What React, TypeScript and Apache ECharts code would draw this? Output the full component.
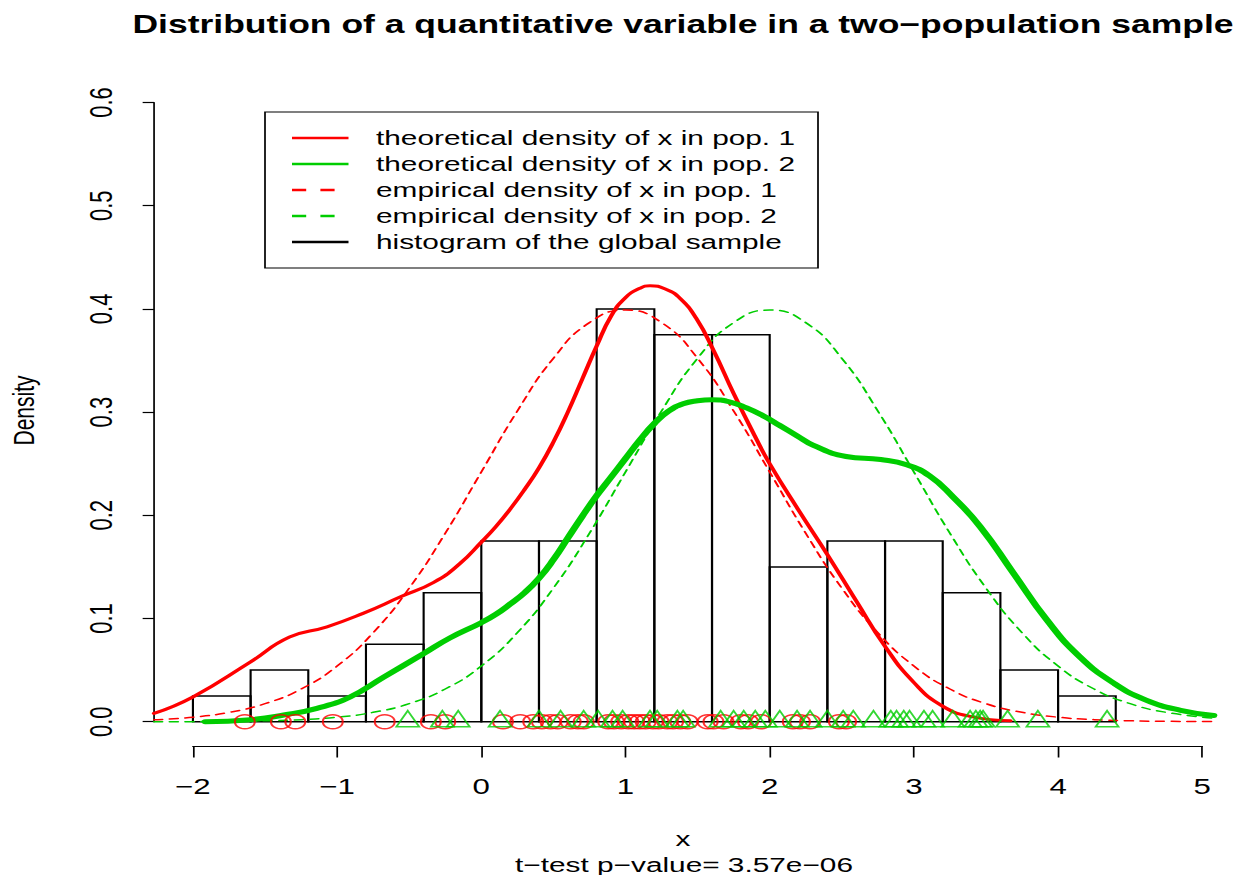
import React, { useEffect, useRef } from "react";
import * as echarts from "echarts";

// ---------------- data ----------------
const binEdges = [-2, -1.6, -1.2, -0.8, -0.4, 0, 0.4, 0.8, 1.2, 1.6, 2.0, 2.4, 2.8, 3.2, 3.6, 4.0, 4.4];
const binDensity = [0.025, 0.05, 0.025, 0.075, 0.125, 0.175, 0.175, 0.4, 0.375, 0.375, 0.15, 0.175, 0.175, 0.125, 0.05, 0.025];

// thick solid red curve (pop. 1)
const redSolidX = [-2.27, -2.0, -1.6, -1.33, -1.07, -0.82, -0.56, -0.33, -0.15, 0.0, 0.1, 0.2, 0.3, 0.4, 0.5, 0.6, 0.7, 0.8, 0.9, 1.0, 1.1, 1.17, 1.28, 1.38, 1.49, 1.61, 1.75, 1.9, 2.0, 2.2, 2.4, 2.6, 2.8, 3.0, 3.2, 3.4, 3.67];
const redSolidY = [0.008, 0.024, 0.058, 0.082, 0.092, 0.105, 0.121, 0.135, 0.153, 0.174, 0.189, 0.206, 0.225, 0.246, 0.271, 0.300, 0.332, 0.364, 0.393, 0.411, 0.420, 0.4225, 0.419, 0.410, 0.391, 0.360, 0.318, 0.276, 0.250, 0.205, 0.162, 0.117, 0.073, 0.038, 0.015, 0.005, 0.001];

// thick solid green curve (pop. 2)
const greenSolidX = [-1.915, -1.6, -1.37, -1.14, -0.91, -0.68, -0.4, -0.22, 0.0, 0.1, 0.2, 0.3, 0.4, 0.5, 0.6, 0.7, 0.8, 0.9, 1.0, 1.1, 1.2, 1.3, 1.4, 1.5, 1.6, 1.72, 1.84, 1.96, 2.07, 2.19, 2.3, 2.53, 2.77, 2.95, 3.11, 3.27, 3.46, 3.69, 3.92, 4.15, 4.39, 4.61, 4.85, 5.08];
const greenSolidY = [0.0, 0.002, 0.0065, 0.013, 0.024, 0.043, 0.066, 0.081, 0.096, 0.104, 0.114, 0.125, 0.139, 0.157, 0.178, 0.199, 0.219, 0.237, 0.255, 0.273, 0.289, 0.301, 0.308, 0.311, 0.312, 0.310, 0.304, 0.296, 0.287, 0.277, 0.268, 0.257, 0.254, 0.249, 0.238, 0.218, 0.189, 0.144, 0.099, 0.063, 0.037, 0.021, 0.011, 0.006];

// thin dashed bell curves
const dashedX = [-2.27, -2, -1.75, -1.5, -1.25, -1, -0.75, -0.5, -0.25, 0, 0.25, 0.5, 0.75, 1, 1.25, 1.5, 1.75, 2, 2.25, 2.5, 2.75, 3, 3.25, 3.5, 3.75, 4, 4.25, 4.5, 4.75, 5.08];
const redDashedY = [0.0019, 0.0044, 0.0091, 0.0175, 0.0317, 0.054, 0.0863, 0.1295, 0.1826, 0.242, 0.3011, 0.3521, 0.3867, 0.3989, 0.3867, 0.3521, 0.3011, 0.242, 0.1826, 0.1295, 0.0863, 0.054, 0.0317, 0.0175, 0.0091, 0.0044, 0.002, 0.0009, 0.0004, 0.0001];
const greenDashedY = [0.0, 0.0001, 0.0004, 0.0009, 0.002, 0.0044, 0.0091, 0.0175, 0.0317, 0.054, 0.0863, 0.1295, 0.1826, 0.242, 0.3011, 0.3521, 0.3867, 0.3989, 0.3867, 0.3521, 0.3011, 0.242, 0.1826, 0.1295, 0.0863, 0.054, 0.0317, 0.0175, 0.0091, 0.0035];

// rug of observations
const pop1Rug = [-1.64, -1.39, -1.29, -1.03, -0.67, -0.35, -0.25, 0.15, 0.27, 0.36, 0.42, 0.48, 0.53, 0.62, 0.67, 0.71, 0.88, 0.92, 0.97, 1.02, 1.06, 1.1, 1.14, 1.19, 1.23, 1.29, 1.33, 1.38, 1.43, 1.57, 1.61, 1.68, 1.8, 1.85, 1.94, 2.16, 2.21, 2.28, 2.48, 2.53];
const pop2Rug = [-0.51, -0.27, -0.16, 0.13, 0.4, 0.55, 0.71, 0.81, 0.91, 0.98, 1.17, 1.22, 1.36, 1.4, 1.66, 1.75, 1.82, 1.9, 1.97, 2.07, 2.19, 2.28, 2.4, 2.51, 2.58, 2.72, 2.84, 2.88, 2.93, 2.97, 3.07, 3.13, 3.27, 3.39, 3.43, 3.46, 3.48, 3.65, 3.86, 4.34];

const legendLabels = [
  "theoretical density of x in pop. 1",
  "theoretical density of x in pop. 2",
  "empirical density of x in pop. 1",
  "empirical density of x in pop. 2",
  "histogram of the global sample",
];

const titleText = "Distribution of a quantitative variable in a two\u2212population sample";
const xLabel = "x";
const subText = "t\u2212test p\u2212value= 3.57e\u221206";
const yLabel = "Density";

// ---------------- layout ----------------
const W = 874;
const H = 875;
const S = 1241 / W; // horizontal stretch of the whole picture
const ix = (px: number) => px / S;

const RED = "#FF0000";
const GREEN = "#00CD00";
const FONT = '"Liberation Sans", Arial, Helvetica, sans-serif';

const pairs = (xs: number[], ys: number[]) => xs.map((x, i) => [x, ys[i]]);

function buildOption(): any {
  const bins = binDensity.map((d, i) => [binEdges[i], binEdges[i + 1], d]);

  const legendEls: any[] = [
    {
      type: "rect",
      shape: { x: ix(265), y: 112, width: ix(818) - ix(265), height: 156 },
      style: { fill: "#fff", stroke: "#000", lineWidth: 1.2 },
      silent: true,
    },
  ];
  const legendColors = [RED, GREEN, RED, GREEN, "#000"];
  const legendDashed = [false, false, true, true, false];
  legendLabels.forEach((lab, i) => {
    const y = 138 + 26 * i;
    legendEls.push({
      type: "line",
      shape: { x1: ix(292), y1: y, x2: ix(348.5), y2: y },
      style: { stroke: legendColors[i], lineWidth: 2.5, lineDash: legendDashed[i] ? [10, 10] : null },
      silent: true,
    });
    legendEls.push({
      type: "text",
      x: ix(376),
      y,
      style: {
        text: lab,
        fill: "#000",
        font: `21px ${FONT}`,
        align: "left",
        verticalAlign: "middle",
        textAlign: "left",
        textVerticalAlign: "middle",
      },
      silent: true,
    });
  });

  const textEl = (text: string, x: number, y: number, font: string, rotation = 0) => ({
    type: "text",
    x,
    y,
    rotation,
    style: {
      text,
      fill: "#000",
      font,
      align: "center",
      verticalAlign: "middle",
      textAlign: "center",
      textVerticalAlign: "middle",
    },
    silent: true,
  });

  const curve = (xs: number[], ys: number[], color: string, width: number, dashed: boolean, z: number) => ({
    type: "line",
    xAxisIndex: 0,
    yAxisIndex: 0,
    data: pairs(xs, ys),
    smooth: 0.5,
    showSymbol: false,
    symbol: "none",
    lineStyle: { color, width, type: dashed ? [6, 5] : "solid", cap: "round", join: "round" },
    silent: true,
    z,
  });

  return {
    animation: false,
    backgroundColor: "#fff",
    grid: [
      { left: ix(154), right: W - ix(1213.8), top: 77.7, bottom: H - 746.5, outerBoundsMode: "none", containLabel: false },
      { left: ix(192.9), right: W - ix(1202.3), top: 77.7, bottom: H - 746.5, outerBoundsMode: "none", containLabel: false },
      { left: ix(154), right: W - ix(1213.8), top: 102.5, bottom: H - 721.7, outerBoundsMode: "none", containLabel: false },
    ],
    xAxis: [
      { gridIndex: 0, type: "value", min: -2.27, max: 5.08, show: false },
      {
        gridIndex: 1,
        type: "value",
        min: -2,
        max: 5,
        interval: 1,
        axisLine: { show: true, onZero: false, lineStyle: { color: "#000", width: 1.2 } },
        axisTick: { show: true, inside: false, length: 11, lineStyle: { color: "#000", width: 1.2 } },
        axisLabel: {
          show: true,
          color: "#000",
          fontSize: 22,
          fontFamily: FONT,
          margin: 29,
          showMinLabel: true,
          showMaxLabel: true,
          hideOverlap: false,
          formatter: (v: number) => (v < 0 ? "\u2212" + Math.abs(v) : String(v)),
        },
        splitLine: { show: false },
      },
      { gridIndex: 2, type: "value", min: 0, max: 1, show: false },
    ],
    yAxis: [
      { gridIndex: 0, type: "value", min: -0.024, max: 0.624, show: false },
      { gridIndex: 1, type: "value", min: 0, max: 1, show: false },
      {
        gridIndex: 2,
        type: "value",
        min: 0,
        max: 0.6,
        interval: 0.1,
        axisLine: { show: true, onZero: false, lineStyle: { color: "#000", width: 1.2 } },
        axisTick: { show: true, inside: false, length: 8, lineStyle: { color: "#000", width: 1.2 } },
        axisLabel: {
          show: true,
          rotate: 90,
          color: "#000",
          fontSize: 22,
          fontFamily: FONT,
          margin: 26,
          showMinLabel: true,
          showMaxLabel: true,
          hideOverlap: false,
          formatter: (v: number) => v.toFixed(1),
        },
        splitLine: { show: false },
      },
    ],
    series: [
      {
        type: "custom",
        xAxisIndex: 0,
        yAxisIndex: 0,
        encode: { x: [0, 1], y: 2 },
        data: bins,
        renderItem: (_p: any, api: any) => {
          const a = api.coord([api.value(0), api.value(2)]);
          const b = api.coord([api.value(1), 0]);
          return {
            type: "rect",
            shape: { x: a[0], y: a[1], width: b[0] - a[0], height: b[1] - a[1] },
            style: { fill: "none", stroke: "#000", lineWidth: 1.5 },
          };
        },
        silent: true,
        z: 1,
      },
      curve(dashedX, redDashedY, RED, 1.5, true, 2),
      curve(dashedX, greenDashedY, GREEN, 1.5, true, 2),
      curve(redSolidX, redSolidY, RED, 3, false, 3),
      curve(greenSolidX, greenSolidY, GREEN, 5, false, 3),
      {
        type: "scatter",
        xAxisIndex: 0,
        yAxisIndex: 0,
        data: pop1Rug.map((x) => [x, 0]),
        symbol: "circle",
        symbolSize: 14,
        itemStyle: { color: "rgba(0,0,0,0)", borderColor: RED, borderWidth: 1.5 },
        silent: true,
        z: 4,
      },
      {
        type: "scatter",
        xAxisIndex: 0,
        yAxisIndex: 0,
        data: pop2Rug.map((x) => [x, 0]),
        symbol: "triangle",
        symbolSize: [16, 16],
        symbolOffset: [0, -3],
        itemStyle: { color: "rgba(0,0,0,0)", borderColor: GREEN, borderWidth: 1.5 },
        silent: true,
        z: 4,
      },
    ],
    graphic: [
      textEl(titleText, ix(683), 24.5, `bold 25px ${FONT}`),
      textEl(xLabel, ix(683), 838.4, `21px ${FONT}`),
      textEl(subText, ix(684), 864.4, `21px ${FONT}`),
      textEl(yLabel, ix(24), 410.5, `21px ${FONT}`, Math.PI / 2),
      ...legendEls,
    ],
  };
}

export default function App() {
  const ref = useRef<HTMLDivElement>(null);
  useEffect(() => {
    if (!ref.current) return;
    const chart = echarts.init(ref.current, null, { renderer: "svg" });
    chart.setOption(buildOption());
    return () => chart.dispose();
  }, []);
  return (
    <div
      style={{
        position: "absolute",
        left: 0,
        top: 0,
        width: 1241,
        height: 875,
        overflow: "hidden",
        background: "#fff",
      }}
    >
      <div
        ref={ref}
        style={{ width: W, height: H, transform: `scaleX(${S})`, transformOrigin: "0 0" }}
      />
    </div>
  );
}
